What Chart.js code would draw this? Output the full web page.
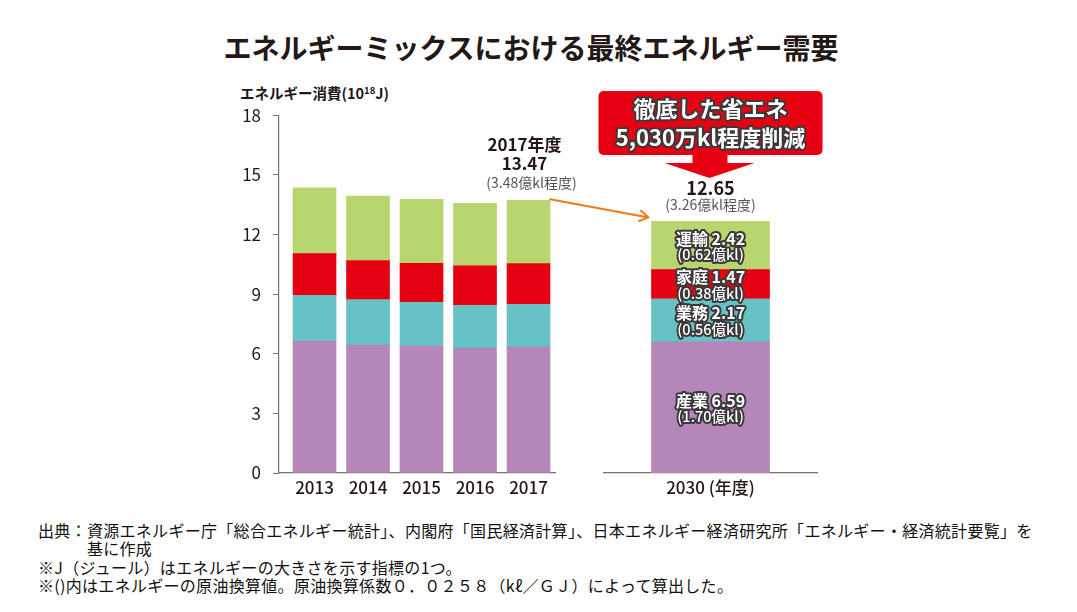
<!DOCTYPE html>
<html lang="ja">
<head>
<meta charset="utf-8">
<title>エネルギーミックスにおける最終エネルギー需要</title>
<script src="https://cdn.jsdelivr.net/npm/chart.js@4.4.0/dist/chart.umd.min.js"></script>
<style>
  html, body { margin: 0; padding: 0; background: #fff; }
  body { font-family: "Noto Sans CJK JP", sans-serif; color: #231815; }
  #wrap { position: relative; width: 1077px; height: 612px; overflow: hidden; }
  .abs { position: absolute; }
  #title { left: 0; width: 1062px; top: 31px; text-align: center; font-size: 28px; font-weight: bold; line-height: 32px; }
  #ytitle { left: 240px; top: 83px; font-size: 14.5px; font-weight: bold; line-height: 20px; }
  #ytitle sup { font-size: 9.5px; vertical-align: 5px; line-height: 0; }
  #notes { left: 38px; top: 521px; font-size: 16px; letter-spacing: 0.3px; line-height: 18.3px; white-space: pre; color: #111; }
  #overlay { left: 0; top: 0; pointer-events: none; }
</style>
</head>
<body>
<div id="wrap">
  <div id="title" class="abs">エネルギーミックスにおける最終エネルギー需要</div>
  <div id="ytitle" class="abs">エネルギー消費(10<sup>18</sup>J)</div>
  <div id="leftBox" class="abs" style="left:230px;top:93px;width:360px;height:414px"><canvas id="c1"></canvas></div>
  <div id="rightBox" class="abs" style="left:603px;top:103px;width:215px;height:404px"><canvas id="c2"></canvas></div>
  <div id="notes" class="abs">出典：資源エネルギー庁「総合エネルギー統計」、内閣府「国民経済計算」、日本エネルギー経済研究所「エネルギー・経済統計要覧」を
　　　基に作成
※J（ジュール）はエネルギーの大きさを示す指標の1つ。
※()内はエネルギーの原油換算値。原油換算係数０．０２５８（kℓ／ＧＪ）によって算出した。</div>
  <canvas id="overlay" class="abs" width="1077" height="612"></canvas>
</div>
<script>
// 実績 (10^18 J) 下から 産業・業務・家庭・運輸
const years = [2013, 2014, 2015, 2016, 2017];
const sangyo = [6.64, 6.43, 6.38, 6.28, 6.33];
const gyomu = [2.30, 2.29, 2.21, 2.16, 2.16];
const katei = [2.10, 1.97, 1.96, 1.98, 2.05];
const unyu = [3.30, 3.24, 3.22, 3.15, 3.18];

// 2030年度 見通し
const label2030 = ['2030 (年度)'];
const sectors = ['産業', '業務', '家庭', '運輸'];
const values2030 = [6.59, 2.17, 1.47, 2.42];
const oil2030 = [1.70, 0.56, 0.38, 0.62];

const total2017 = 13.47, oil2017 = 3.48;
const total2030 = 12.65, oil2030Total = 3.26;
const cutText = ['徹底した省エネ', '5,030万kl程度削減'];

const yMin = 0, yMax = 18, yStep = 3;

const colors = ['#b586b8', '#66c2c4', '#e50012', '#b9d56f'];
const axisColor = '#7a706d';
const textColor = '#231815';
const FONT = '"Noto Sans CJK JP", sans-serif';

// 左グラフ (2013-2017)
const histSeries = [sangyo, gyomu, katei, unyu];
const chart1 = new Chart(document.getElementById('c1'), {
  type: 'bar',
  data: {
    datasets: histSeries.map((vals, i) => ({
      label: sectors[i],
      data: years.map((yr, j) => ({ x: yr, y: vals[j] })),
      backgroundColor: colors[i],
      borderWidth: 0,
      barThickness: 43
    }))
  },
  options: {
    responsive: true,
    maintainAspectRatio: false,
    animation: false,
    devicePixelRatio: 1,
    layout: { padding: { top: 2, right: 35, left: 0, bottom: 0 } },
    plugins: { legend: { display: false }, tooltip: { enabled: false } },
    scales: {
      x: {
        type: 'linear',
        stacked: true,
        offset: false,
        min: 2012.336,
        max: 2017.495,
        afterBuildTicks: s => { s.ticks = years.map(v => ({ value: v })); },
        afterFit: s => { s.height = 34; },
        ticks: { callback: v => String(v), color: textColor, font: { family: FONT, size: 17, weight: '500' }, padding: 4, maxRotation: 0 },
        grid: { display: true, drawOnChartArea: false, drawTicks: false, offset: false },
        border: { color: axisColor, width: 1.2 }
      },
      y: {
        stacked: true,
        min: yMin,
        max: yMax,
        afterFit: s => { s.width = 49; },
        ticks: { stepSize: yStep, color: textColor, font: { family: FONT, size: 17 }, padding: 12 },
        grid: { drawOnChartArea: false, drawTicks: true, tickLength: 6, color: axisColor },
        border: { color: axisColor, width: 1.2 }
      }
    }
  }
});

// 右グラフ (2030)
const chart2 = new Chart(document.getElementById('c2'), {
  type: 'bar',
  data: {
    labels: label2030,
    datasets: values2030.map((v, i) => ({
      label: sectors[i],
      data: [v],
      backgroundColor: colors[i],
      borderWidth: 0,
      barThickness: 118
    }))
  },
  options: {
    responsive: true,
    maintainAspectRatio: false,
    animation: false,
    devicePixelRatio: 1,
    layout: { padding: { top: 12, right: 0, left: 0, bottom: 0 } },
    plugins: { legend: { display: false }, tooltip: { enabled: false } },
    scales: {
      x: {
        stacked: true,
        afterFit: s => { s.height = 34; },
        ticks: { color: textColor, font: { family: FONT, size: 17, weight: '500' }, padding: 4 },
        grid: { display: true, drawOnChartArea: false, drawTicks: false },
        border: { color: axisColor, width: 1.2 }
      },
      y: { display: false, stacked: true, min: yMin, max: yMax }
    }
  }
});

// 注記
function pagePos(chart, box, ds, idx) {
  const el = chart.getDatasetMeta(ds).data[idx];
  const b = document.getElementById(box);
  return { x: el.x + b.offsetLeft, y: el.y + b.offsetTop, base: el.base + b.offsetTop, w: el.width };
}

function outlined(ctx, text, x, y, font) {
  ctx.font = font;
  ctx.lineJoin = 'round';
  ctx.lineWidth = 4;
  ctx.strokeStyle = '#3a3a3a';
  ctx.strokeText(text, x, y);
  ctx.fillStyle = '#fff';
  ctx.fillText(text, x, y);
}

function drawOverlay() {
  const ctx = document.getElementById('overlay').getContext('2d');
  ctx.textAlign = 'center';
  ctx.textBaseline = 'middle';

  // 2017年度 ラベル
  const top17 = pagePos(chart1, 'leftBox', 3, years.length - 1);
  ctx.fillStyle = textColor;
  ctx.font = 'bold 17px ' + FONT;
  ctx.fillText('2017年度', top17.x - 4, 145);
  ctx.fillText(total2017.toFixed(2), top17.x - 4, 164);
  ctx.fillStyle = '#555';
  ctx.font = '14px ' + FONT;
  ctx.fillText('(' + oil2017.toFixed(2) + '億kl程度)', top17.x + 3, 183);

  // 2030 セグメントラベル
  const seg = values2030.map((v, i) => pagePos(chart2, 'rightBox', i, 0));
  seg.forEach((p, i) => {
    const cy = (p.y + p.base) / 2;
    outlined(ctx, sectors[i] + ' ' + values2030[i].toFixed(2), p.x, cy - 7, 'bold 16px ' + FONT);
    outlined(ctx, '(' + oil2030[i].toFixed(2) + '億kl)', p.x, cy + 9, '500 14.5px ' + FONT);
  });

  const top30 = seg[seg.length - 1];
  ctx.fillStyle = textColor;
  ctx.font = 'bold 18px ' + FONT;
  ctx.fillText(total2030.toFixed(2), top30.x, 188);
  ctx.fillStyle = '#555';
  ctx.font = '14px ' + FONT;
  ctx.fillText('(' + oil2030Total.toFixed(2) + '億kl程度)', top30.x, 205);

  // 吹き出し
  const cx = top30.x;
  ctx.fillStyle = '#e60012';
  ctx.beginPath();
  ctx.roundRect(cx - 112, 91, 224, 64, 5);
  ctx.fill();
  ctx.fillRect(cx - 18, 154, 35, 10);
  ctx.beginPath();
  ctx.moveTo(cx - 46, 163);
  ctx.lineTo(cx + 44, 163);
  ctx.lineTo(cx - 1, 178);
  ctx.closePath();
  ctx.fill();
  outlined(ctx, cutText[0], cx, 109, 'bold 22px ' + FONT);
  outlined(ctx, cutText[1], cx, 138, 'bold 22px ' + FONT);

  // 矢印 2017 -> 2030
  const x0 = top17.x + top17.w / 2, y0 = top17.y - 1;
  const x1 = top30.x - top30.w / 2 - 3, y1 = top30.y - 4;
  ctx.strokeStyle = '#f07a14';
  ctx.lineWidth = 2;
  ctx.lineCap = 'round';
  ctx.beginPath();
  ctx.moveTo(x0, y0);
  ctx.lineTo(x1, y1);
  const ang = Math.atan2(y1 - y0, x1 - x0);
  ctx.moveTo(x1 - 10 * Math.cos(ang - 0.55), y1 - 10 * Math.sin(ang - 0.55));
  ctx.lineTo(x1, y1);
  ctx.lineTo(x1 - 10 * Math.cos(ang + 0.55), y1 - 10 * Math.sin(ang + 0.55));
  ctx.stroke();
}

drawOverlay();
</script>
</body>
</html>
